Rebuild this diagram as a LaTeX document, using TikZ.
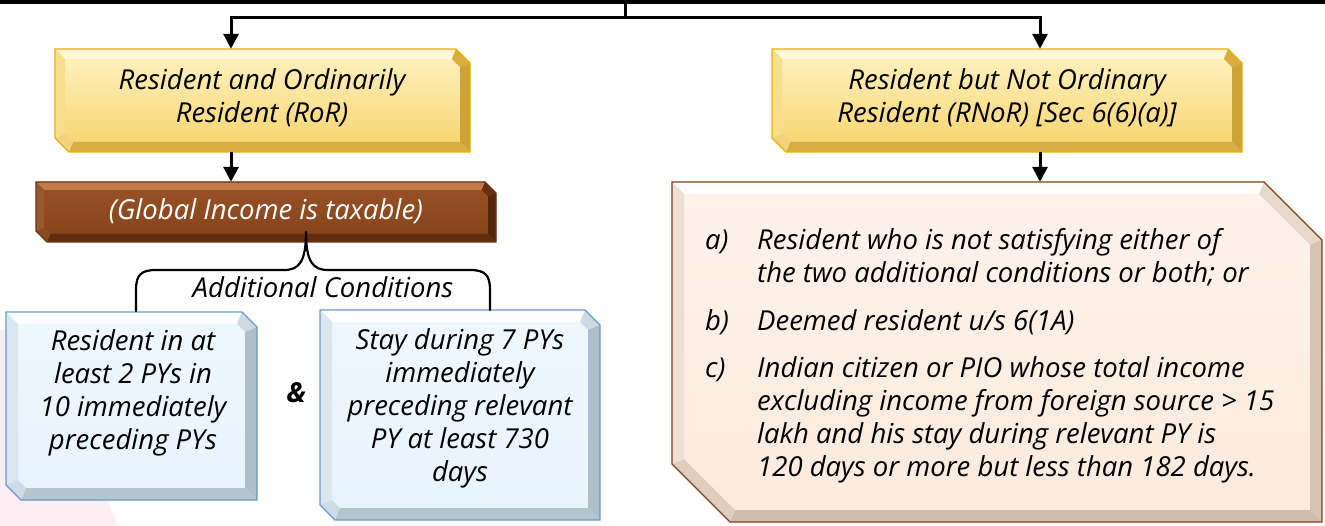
\documentclass[tikz,border=0pt]{standalone}
\usepackage{fontspec}
\setmainfont{Open Sans}
\usetikzlibrary{arrows.meta,calc}

% face and bevel colours: top/bot = face gradient, T/C/R/B/D/L = bevel strips
\definecolor{rortop}{HTML}{FFF3C4}\definecolor{rorbot}{HTML}{F7D36A}
\definecolor{rorT}{HTML}{FFF8DC}\definecolor{rorC}{HTML}{D9AE3E}
\definecolor{rorR}{HTML}{CDA236}\definecolor{rorB}{HTML}{D8AE42}
\definecolor{rorD}{HTML}{F2D27A}\definecolor{rorL}{HTML}{F6DE8E}
\definecolor{rorline}{HTML}{E8B000}

\definecolor{brntop}{HTML}{9A5226}\definecolor{brnbot}{HTML}{84421A}
\definecolor{brnT}{HTML}{C27C4C}\definecolor{brnC}{HTML}{6A300E}
\definecolor{brnR}{HTML}{55260A}\definecolor{brnB}{HTML}{632C0C}
\definecolor{brnD}{HTML}{8A4A22}\definecolor{brnL}{HTML}{9A582E}
\definecolor{brnline}{HTML}{6A3412}

\definecolor{blutop}{HTML}{EEF8FE}\definecolor{blubot}{HTML}{E6F4FC}
\definecolor{bluT}{HTML}{FFFFFF}\definecolor{bluC}{HTML}{CCDAE3}
\definecolor{bluR}{HTML}{AEBFCA}\definecolor{bluB}{HTML}{B4C5D0}
\definecolor{bluD}{HTML}{CCDBE5}\definecolor{bluL}{HTML}{DAE7EF}
\definecolor{bluline}{HTML}{6A9AC8}

\definecolor{pchtop}{HTML}{FEF3EA}\definecolor{pchbot}{HTML}{FCEADC}
\definecolor{pchT}{HTML}{FFFFFF}\definecolor{pchC}{HTML}{E8D8CC}
\definecolor{pchR}{HTML}{D5C2B5}\definecolor{pchB}{HTML}{CFBCAF}
\definecolor{pchD}{HTML}{DECDC1}\definecolor{pchL}{HTML}{EDDFD4}
\definecolor{pchline}{HTML}{7B3F18}

\definecolor{blush}{HTML}{FCEFF3}

% #1 name, #2 x1, #3 y1, #4 x2, #5 y2, #6 chamfer, #7 bevel, #8 colour prefix
\newcommand\bevelbox[8]{%
  \coordinate (#1-o1) at (#2,#3);
  \coordinate (#1-o2) at ({#4-#6},#3);
  \coordinate (#1-o3) at (#4,{#3+#6});
  \coordinate (#1-o4) at (#4,#5);
  \coordinate (#1-o5) at ({#2+#6},#5);
  \coordinate (#1-o6) at (#2,{#5-#6});
  \coordinate (#1-i1) at ({#2+#7},{#3+#7});
  \coordinate (#1-i2) at ({#4-#6-0.414*#7},{#3+#7});
  \coordinate (#1-i3) at ({#4-#7},{#3+#6+0.414*#7});
  \coordinate (#1-i4) at ({#4-#7},{#5-#7});
  \coordinate (#1-i5) at ({#2+#6+0.414*#7},{#5-#7});
  \coordinate (#1-i6) at ({#2+#7},{#5-#6-0.414*#7});
  \shade[top color=#8top, bottom color=#8bot]
    (#1-o1)--(#1-o2)--(#1-o3)--(#1-o4)--(#1-o5)--(#1-o6)--cycle;
  \fill[#8T] (#1-o1)--(#1-o2)--(#1-i2)--(#1-i1)--cycle;
  \fill[#8C] (#1-o2)--(#1-o3)--(#1-i3)--(#1-i2)--cycle;
  \fill[#8R] (#1-o3)--(#1-o4)--(#1-i4)--(#1-i3)--cycle;
  \fill[#8B] (#1-o4)--(#1-o5)--(#1-i5)--(#1-i4)--cycle;
  \fill[#8D] (#1-o5)--(#1-o6)--(#1-i6)--(#1-i5)--cycle;
  \fill[#8L] (#1-o6)--(#1-o1)--(#1-i1)--(#1-i6)--cycle;
  \draw[#8line, line width=1.3pt, line join=miter]
    (#1-o1)--(#1-o2)--(#1-o3)--(#1-o4)--(#1-o5)--(#1-o6)--cycle;
  \node[inner sep=0pt, minimum width={#4-#2}, minimum height={#5-#3}]
    (#1) at ({(#2+#4)/2},{(#3+#5)/2}) {};
}

\tikzset{
  txt/.style={font=\fontsize{27.5}{33}\selectfont\itshape, align=center, inner sep=0pt},
  conn/.style={line width=3pt, black},
  arr/.style={conn, -{Triangle[width=15pt,length=15pt]}},
  bracepath/.style={line width=2.2pt, black, line cap=round, line join=round},
}

\begin{document}
\begin{tikzpicture}[x=1pt, y=-1pt]
\useasboundingbox (0,0) rectangle (1325,526);
\fill[white] (0,0) rectangle (1325,526);
\fill[blush] (0,330) -- (35,330) -- (118,526) -- (0,526) -- cycle;

% parent bar along the top edge
\node[fill=black, inner sep=0pt, minimum width=1325pt, minimum height=3.5pt, anchor=north]
  (parent) at (662.5,0) {};
\coordinate (split) at (625,17.5);

% boxes
\bevelbox{ror}{55}{49}{470}{152}{14}{10}{ror}
\bevelbox{rnor}{772}{49}{1242}{152}{14}{10}{ror}
\bevelbox{global}{36}{182}{496}{242}{11}{8}{brn}
\bevelbox{condA}{6}{312}{257}{500}{15}{12}{blu}
\bevelbox{condB}{320}{310}{600}{520}{15}{12}{blu}
\bevelbox{rnorlist}{672}{182}{1322}{522}{58}{12}{pch}

% texts
\node[txt] (rortext) at (262,98) {Resident and Ordinarily\\Resident (RoR)};
\node[txt] (rnortext) at (1007,98) {Resident but Not Ordinary\\Resident (RNoR) [Sec 6(6)(a)]};
\node[txt, text=white] (globaltext) at (266,211) {(Global Income is taxable)};
\node[txt] (condAtext) at (133,393) {Resident in at\\least 2 PYs in\\10 immediately\\preceding PYs};
\node[txt] (condBtext) at (460,408) {Stay during 7 PYs\\immediately\\preceding relevant\\PY at least 730\\days};
\node[txt] (addl) at (323,287) {Additional Conditions};
\node[txt, font=\fontsize{27.5}{33}\selectfont\bfseries\itshape] (amp) at (296,393) {\&};
\node[txt, align=left, anchor=north west] (listtext) at (705,226) {%
  \begin{tabular}{@{}l@{}l@{}}
  \makebox[52pt][l]{a)} & Resident who is not satisfying either of\\
   & the two additional conditions or both; or\\[15pt]
  b) & Deemed resident u/s 6(1A)\\[14pt]
  c) & Indian citizen or PIO whose total income\\
   & excluding income from foreign source > 15\\
   & lakh and his stay during relevant PY is\\
   & 120 days or more but less than 182 days.
  \end{tabular}};

% connectors
\draw[conn] (parent.south -| split) -- (split);
\draw[arr] (split) -| ([xshift=-31.5pt]ror.north);
\draw[arr] (split) -| ([xshift=33pt]rnor.north);
\draw[arr] ([xshift=-31.5pt]ror.south) -- ([xshift=-31.5pt]ror.south |- global.north);
\draw[arr] ([xshift=33pt]rnor.south) -- ([xshift=33pt]rnor.south |- rnorlist.north);

% brace joining the two additional conditions
\coordinate (bracetip) at (306,232);
\coordinate (braceR) at (490,310);
\draw[bracepath] (136,311) -- (136,290)
  .. controls (136,275) and (141,270) .. (156,270) -- (284,270)
  .. controls (299,270) and (306,262) .. (bracetip)
  .. controls (306,262) and (313,270) .. (328,270) -- (470,270)
  .. controls (485,270) and (490,275) .. (490,290) -- (braceR);
\end{tikzpicture}
\end{document}
